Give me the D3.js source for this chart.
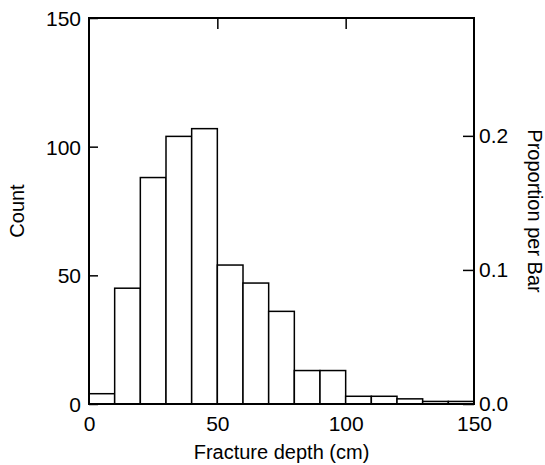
<!DOCTYPE html>
<meta charset="utf-8">
<title>Fracture depth histogram</title>
<style>
body { margin: 0; background: #fff; }
text { font-family: "Liberation Sans", Arial, sans-serif; fill: #000; }
.bar { fill: #fff; stroke: #000; stroke-width: 1.5px; }
.frame { fill: none; stroke: #000; stroke-width: 2px; }
.tick line { stroke: #000; stroke-width: 1.5px; }
</style>
<svg width="545" height="465"></svg>
<script src="https://cdn.jsdelivr.net/npm/d3@7"></script>
<script>

// bin edges (cm) and counts per bin
var binStarts = [0, 10, 20, 30, 40, 50, 60, 70, 80, 90, 100, 110, 120, 130, 140];
var binWidth = 10;
var counts = [4, 45, 88, 104, 107, 54, 47, 36, 13, 13, 3, 3, 2, 1, 1];
var xTicks = [0, 50, 100, 150];
var countTicks = [0, 50, 100, 150];
var propTicks = [0.0, 0.1, 0.2];

var svg = d3.select("svg");

// note: "top" is a reserved window property, so use plotTop etc.
var plotLeft = 89, plotRight = 474, plotTop = 18, plotBottom = 404;
var total = d3.sum(counts);

var x = d3.scaleLinear().domain([0, 150]).range([plotLeft, plotRight]);
var y = d3.scaleLinear().domain([0, 150]).range([plotBottom, plotTop]);
var yProp = d3.scaleLinear().domain([0, 150 / total]).range([plotBottom, plotTop]);

var data = binStarts.map(function(s, i) { return { x0: s, x1: s + binWidth, n: counts[i] }; });

svg.append("g").selectAll("rect")
    .data(data)
  .enter().append("rect")
    .attr("class", "bar")
    .attr("x", function(d) { return x(d.x0); })
    .attr("width", function(d) { return x(d.x1) - x(d.x0); })
    .attr("y", function(d) { return y(d.n); })
    .attr("height", function(d) { return plotBottom - y(d.n); });

// axes (ticks pointing into the frame)
var gLeft = svg.append("g").attr("transform", "translate(" + plotLeft + ",0)")
    .call(d3.axisLeft(y).tickValues(countTicks).tickSize(-9).tickPadding(8).tickFormat(d3.format("d")));

var gRight = svg.append("g").attr("transform", "translate(" + plotRight + ",0)")
    .call(d3.axisRight(yProp).tickValues(propTicks).tickSize(-11).tickPadding(5).tickFormat(d3.format(".1f")));

var gBottom = svg.append("g").attr("transform", "translate(0," + plotBottom + ")")
    .call(d3.axisBottom(x).tickValues(xTicks).tickSize(0).tickPadding(12).tickFormat(d3.format("d")));

var gTop = svg.append("g").attr("transform", "translate(0," + plotTop + ")")
    .call(d3.axisTop(x).tickValues([50, 100]).tickSize(-11).tickFormat(""));

[gLeft, gRight, gBottom, gTop].forEach(function(g) {
  g.select(".domain").remove();
  g.selectAll("text").style("font-size", "21px").attr("font-family", null);
});
gRight.selectAll(".tick text").attr("dy", "0.3em");
gLeft.selectAll(".tick text").attr("dy", "0.36em");

svg.append("rect")
    .attr("class", "frame")
    .attr("x", plotLeft).attr("y", plotTop)
    .attr("width", plotRight - plotLeft).attr("height", plotBottom - plotTop);

svg.append("text")
    .attr("x", (plotLeft + plotRight) / 2).attr("y", 459)
    .attr("text-anchor", "middle")
    .style("font-size", "20px")
    .text("Fracture depth (cm)");

svg.append("text")
    .attr("transform", "translate(24," + (plotTop + plotBottom) / 2 + ") rotate(-90)")
    .attr("text-anchor", "middle")
    .style("font-size", "20px")
    .text("Count");

svg.append("text")
    .attr("transform", "translate(528," + (plotTop + plotBottom) / 2 + ") rotate(90)")
    .attr("text-anchor", "middle")
    .style("font-size", "20px")
    .text("Proportion per Bar");

</script>
